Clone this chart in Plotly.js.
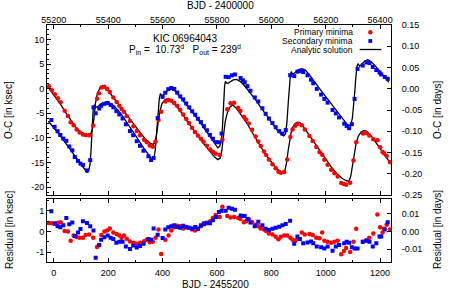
<!DOCTYPE html>
<html>
<head>
<meta charset="utf-8">
<script src="https://cdn.plot.ly/plotly-3.0.1.min.js"></script>
<style>
html,body{margin:0;padding:0;background:#fff;}
#chart{width:458px;height:291px;}
</style>
</head>
<body>
<div id="chart"></div>
<script>
// ---- Analytic solution (O-C in ksec) vs BJD - 2455200 ----
const primCurveT = [-26,-16,0,12,25,40,60,80,95,110,125,135,142,148,153,160,170,180,190,200,220,240,260,280,300,320,340,355,365,372,378,384,390,398,410,420,430,450,470,490,510,530,550,570,590,603,612,618,624,630,638,648,658,670,690,710,730,750,770,790,810,828,840,850,856,862,868,875,885,895,905,920,940,960,980,1000,1020,1040,1060,1075,1085,1092,1098,1105,1112,1120,1130,1140,1150,1170,1190,1210,1230,1240];
const primCurveOC = [0.7,-0.05,-1.2,-2.1,-3.2,-4.5,-6.2,-7.8,-8.6,-9.1,-9.35,-9.2,-8.3,-6.0,-3.0,-1.0,0.2,0.6,0.3,-0.4,-1.8,-3.2,-4.6,-6.1,-7.6,-9.1,-10.4,-11.1,-11.3,-11.0,-9.3,-6.8,-4.6,-3.0,-2.2,-2.0,-2.4,-3.5,-4.9,-6.6,-8.2,-9.6,-11.1,-12.5,-13.8,-14.4,-14.1,-12.5,-9.5,-6.8,-4.9,-3.7,-3.3,-3.9,-5.4,-7.0,-8.9,-10.8,-12.6,-14.2,-15.6,-16.6,-17.0,-16.6,-15.0,-12.5,-10.0,-8.2,-7.2,-6.8,-6.9,-7.9,-9.5,-11.1,-12.8,-14.4,-15.9,-17.2,-18.2,-18.7,-18.8,-17.8,-15.5,-13.0,-11.0,-9.6,-8.8,-8.5,-8.6,-9.8,-11.3,-12.9,-14.5,-15.3];

const secCurveT = [-20,0,20,40,60,80,100,115,122,128,133,137,141,145,149,155,162,175,190,200,215,230,250,270,290,310,330,350,362,368,373,378,383,388,392,397,405,420,432,445,460,480,500,520,540,560,580,595,603,610,616,620,624,628,631,635,640,648,660,672,685,700,720,740,760,780,800,820,835,845,852,857,862,866,870,873,878,885,900,912,925,940,960,980,1000,1020,1040,1060,1075,1085,1092,1098,1103,1107,1111,1115,1119,1124,1130,1145,1155,1165,1180,1200,1220,1232];
const secCurveOC = [-6.6,-7.9,-9.3,-10.8,-12.3,-13.9,-15.5,-16.6,-17.0,-16.8,-15.5,-12.5,-8.0,-4.0,-3.3,-3.8,-3.6,-3.0,-2.7,-2.7,-3.2,-4.0,-5.3,-6.9,-8.6,-10.3,-12.0,-13.5,-14.4,-14.2,-12.5,-9.0,-5.0,-2.0,-1.0,-1.4,-1.2,-0.3,-0.1,-0.4,-1.4,-2.7,-4.1,-5.5,-7.0,-8.6,-10.3,-11.5,-12.0,-11.7,-10.8,-8.0,-3.0,0.5,1.5,1.2,1.1,1.4,1.8,1.9,1.5,0.7,-0.6,-2.1,-3.7,-5.3,-6.8,-8.3,-9.2,-9.6,-9.2,-7.0,-3.0,0.5,2.8,3.5,3.0,3.2,3.9,4.1,3.8,2.8,1.2,-0.2,-1.6,-3.0,-4.5,-6.0,-7.0,-7.5,-7.3,-6.0,-3.5,-0.5,2.5,4.6,5.1,4.6,4.9,5.7,5.9,5.6,4.8,3.4,2.1,1.3];

// ---- Primary minima ----
const primT = [-18,-7,4,15,25,40,52,62,73,84,95,107,117,130,145,159,166,175,186,196,206,219,231,241,249,258,268,280,293,305,317,332,342,353,364,374,385,395,410,422,432,443,454,465,476,487,497,508,519,530,541,551,563,575,585,595,610,620,638,650,663,678,686,699,707,717,729,742,752,761,773,781,791,804,816,826,835,847,858,870,878,888,896,912,923,940,952,965,977,987,995,1007,1020,1032,1044,1057,1067,1075,1090,1102,1112,1137,1149,1160,1175,1190,1200,1209,1214,1224,1236];
const primOC = [0.51,-0.30,-1.10,-1.93,-2.75,-4.48,-5.52,-6.81,-7.44,-8.28,-8.90,-9.30,-9.40,-9.43,-7.45,-2.04,-0.93,0.23,0.42,-0.07,-0.67,-1.78,-2.69,-3.47,-4.13,-4.66,-5.55,-6.58,-7.63,-8.58,-9.43,-10.35,-10.89,-11.53,-11.78,-10.73,-6.33,-4.69,-2.60,-2.28,-2.46,-2.92,-3.50,-4.30,-5.26,-6.15,-6.98,-7.94,-8.78,-9.48,-10.18,-10.77,-11.61,-12.33,-12.83,-13.23,-13.47,-10.30,-4.15,-2.94,-2.85,-3.85,-4.50,-5.67,-6.26,-7.07,-8.36,-9.71,-10.73,-11.64,-12.74,-13.46,-14.37,-15.33,-16.18,-16.87,-17.08,-16.92,-14.37,-9.79,-8.30,-7.53,-7.18,-7.42,-8.29,-9.62,-10.63,-11.83,-12.88,-13.41,-14.45,-15.43,-16.45,-17.18,-17.85,-19.15,-19.38,-19.50,-19.09,-14.57,-10.87,-9.09,-9.01,-9.50,-10.28,-10.48,-11.90,-12.87,-13.09,-13.69,-14.88];
const primRes = [0.41,0.40,0.40,0.42,0.45,0.02,0.00,-0.45,-0.20,-0.27,-0.30,-0.30,-0.17,-0.15,-0.30,-0.75,-0.65,-0.17,0.00,0.05,0.15,-0.05,-0.12,-0.20,-0.30,-0.20,-0.35,-0.48,-0.55,-0.60,-0.55,-0.47,-0.40,-0.52,-0.50,-0.30,0.10,-1.09,-0.40,-0.20,0.05,0.20,0.28,0.25,0.15,0.20,0.18,0.10,0.05,0.12,0.25,0.40,0.40,0.50,0.65,0.80,0.70,1.20,0.75,0.68,0.70,0.65,0.60,0.45,0.50,0.60,0.45,0.33,0.25,0.15,0.10,0.02,-0.10,-0.15,-0.25,-0.38,-0.25,-0.20,-0.20,-0.30,-0.40,-0.45,-0.37,-0.05,-0.15,-0.12,-0.17,-0.30,-0.33,-0.05,-0.45,-0.50,-0.55,-0.50,-0.45,-1.10,-0.95,-0.80,-1.00,-0.50,0.13,-0.50,-0.42,-0.30,-0.10,0.82,0.20,-0.05,0.13,0.33,0.10];

// ---- Secondary minima ----
const secT = [-9,3,14,24,35,46,57,68,77,89,98,107,122,134,146,154,167,174,186,198,209,219,230,241,253,265,280,292,305,317,330,348,358,367,382,400,410,421,432,443,454,465,476,487,498,509,520,530,541,552,563,574,585,596,607,617,632,643,655,666,687,695,702,712,723,739,752,767,779,791,804,816,829,841,853,869,884,896,905,917,933,946,954,967,983,995,1007,1025,1037,1049,1068,1077,1086,1096,1106,1117,1136,1150,1161,1173,1186,1198,1204,1217,1228];
const secOC = [-6.34,-7.73,-8.63,-9.40,-10.13,-10.60,-11.73,-12.51,-13.88,-14.67,-15.22,-15.51,-16.59,-14.50,-3.78,-4.99,-4.02,-3.45,-3.06,-2.90,-3.30,-3.78,-4.55,-5.22,-6.04,-7.23,-8.60,-9.45,-10.66,-11.60,-12.60,-13.72,-14.50,-14.08,-5.96,-1.65,-0.80,-0.08,0.15,-0.05,-0.78,-1.55,-2.16,-2.99,-3.78,-4.58,-5.28,-6.10,-6.78,-7.61,-8.44,-9.39,-10.15,-10.86,-10.88,-9.10,2.43,2.36,2.73,2.90,2.17,1.72,1.32,0.52,-0.40,-1.77,-2.59,-3.96,-5.09,-6.06,-6.97,-7.82,-8.61,-9.14,-8.40,2.75,2.57,3.47,3.61,3.41,2.73,1.83,1.11,-0.02,-1.18,-2.07,-2.82,-4.31,-5.01,-5.83,-7.10,-7.60,-8.02,-7.20,-2.07,4.03,4.72,5.35,5.22,4.44,3.81,3.30,2.90,2.40,2.02];
const secRes = [0.98,0.38,0.25,0.20,0.30,0.65,0.35,0.43,-0.22,-0.05,0.12,0.50,0.41,0.25,0.05,-1.27,-0.65,-0.40,-0.28,-0.20,-0.30,-0.37,-0.55,-0.50,-0.50,-0.73,-0.85,-0.68,-0.78,-0.70,-0.60,-0.37,-0.40,0.15,-0.16,-0.32,0.10,0.20,0.25,0.30,0.22,0.18,0.28,0.20,0.18,0.15,0.22,0.15,0.30,0.35,0.42,0.40,0.55,0.70,0.95,1.00,1.00,1.15,1.10,1.05,0.78,0.75,0.75,0.60,0.43,0.26,0.47,0.30,0.13,0.07,0.13,0.18,0.23,0.30,0.36,0.52,-0.60,-0.24,-0.37,-0.57,-0.54,-0.49,-0.57,-0.73,-0.77,-0.82,-0.73,-0.93,-0.73,-0.65,-0.57,-0.50,-0.55,-0.77,-0.82,-0.82,-0.50,-0.45,-0.50,-0.73,-0.57,-0.24,-0.24,0.10,0.45];

// ---- Tick values and labels ----
const xBottomTicks = [0, 200, 400, 600, 800, 1000, 1200];
const xBottomTickText = ['0', '200', '400', '600', '800', '1000', '1200'];
const xTopTicks = [55200, 55400, 55600, 55800, 56000, 56200, 56400];
const xTopTickText = ['55200', '55400', '55600', '55800', '56000', '56200', '56400'];
const yTopTicks = [-20, -15, -10, -5, 0, 5, 10];
const yTopTickText = ['-20', '-15', '-10', '-5', '0', '5', '10'];
const yTopDaysTicks = [-0.25, -0.20, -0.15, -0.10, -0.05, 0.00, 0.05, 0.10, 0.15];
const yTopDaysTickText = ['-0.25', '-0.20', '-0.15', '-0.10', '-0.05', '0.00', '0.05', '0.10', '0.15'];
const yBotTicks = [-1, 0, 1];
const yBotTickText = ['-1', '0', '1'];
const yBotDaysTicks = [-0.01, 0.00, 0.01];
const yBotDaysTickText = ['-0.01', '0.00', '0.01'];

// ---- Labels ----
const seriesNames = ['Primary minima', 'Secondary minima', 'Analytic solution'];
const starName = 'KIC 06964043';
const periodText = 'P<sub>in</sub> =\u00a0\u00a010.73<sup>d</sup>\u00a0\u00a0\u00a0P<sub>out</sub> = 239<sup>d</sup>';
const xTopTitle = 'BJD - 2400000';
const xBottomTitle = 'BJD - 2455200';
const yTopLeftTitle = 'O-C [in ksec]';
const yTopRightTitle = 'O-C [in days]';
const yBotLeftTitle = 'Residual [in ksec]';
const yBotRightTitle = 'Residual [in days]';

const KSEC_PER_DAY = 86.4;
const xRange = [-25, 1240];
const yTopRange = [-21.6, 12.96];
const yBotRange = [-1.48, 1.6];

const FONT = 'Liberation Sans, Arial, Helvetica, sans-serif';
const RED = '#ff0000', BLUE = '#0000ff';

const traces = [
  {x: primCurveT, y: primCurveOC, xaxis:'x', yaxis:'y', mode:'lines', name: seriesNames[2],
   line:{color:'#000', width:1.3}, showlegend:false, hoverinfo:'skip'},
  {x: secCurveT, y: secCurveOC, xaxis:'x', yaxis:'y', mode:'lines', name: seriesNames[2],
   line:{color:'#000', width:1.3}, showlegend:false, hoverinfo:'skip'},
  {x: primT, y: primOC, xaxis:'x', yaxis:'y', mode:'markers', name: seriesNames[0],
   marker:{color:RED, size:4.5, symbol:'circle'}, showlegend:false},
  {x: secT, y: secOC, xaxis:'x', yaxis:'y', mode:'markers', name: seriesNames[1],
   marker:{color:BLUE, size:4, symbol:'square'}, showlegend:false},
  {x: primT, y: primRes, xaxis:'x2', yaxis:'y2', mode:'markers', name: seriesNames[0],
   marker:{color:RED, size:4.5, symbol:'circle'}, showlegend:false},
  {x: secT, y: secRes, xaxis:'x2', yaxis:'y2', mode:'markers', name: seriesNames[1],
   marker:{color:BLUE, size:4, symbol:'square'}, showlegend:false},
  // carriers for the secondary (top / right) axes; they hold no marks
  {x: [], y: [], xaxis:'x3', yaxis:'y3', mode:'markers', showlegend:false, hoverinfo:'skip'},
  {x: [], y: [], xaxis:'x2', yaxis:'y4', mode:'markers', showlegend:false, hoverinfo:'skip'}
];

const axBase = {
  showgrid:false, zeroline:false, showline:true, linecolor:'#000', linewidth:1,
  ticks:'inside', ticklen:4, tickwidth:1, tickcolor:'#000',
  tickfont:{family:FONT, size:9, color:'#000'}
};
const minorX = {tick0:0, dtick:100, ticks:'inside', ticklen:2, tickcolor:'#000'};

const L = 47, R = 67, T = 25, B = 29;
const W = 458, H = 291;
const pw = W - L - R, ph = H - T - B;
const px2x = p => (p - L) / pw;
const py2y = p => (H - B - p) / ph;

const layout = {
  width: W, height: H,
  margin:{l:L, r:R, t:T, b:B, pad:0},
  paper_bgcolor:'#fff', plot_bgcolor:'#fff',
  font:{family:FONT, size:10, color:'#000'},
  showlegend:false,
  xaxis: Object.assign({}, axBase, {domain:[0,1], anchor:'y', range:xRange,
    tickmode:'array', tickvals:xBottomTicks, ticktext:xBottomTickText,
    showticklabels:false, minor:minorX}),
  xaxis3: Object.assign({}, axBase, {overlaying:'x', side:'top', anchor:'y',
    range:[xRange[0]+55200, xRange[1]+55200],
    tickmode:'array', tickvals:xTopTicks, ticktext:xTopTickText, ticklabelstandoff:-3,
    minor:{tick0:55200, dtick:100, ticks:'inside', ticklen:2, tickcolor:'#000'}}),
  yaxis: Object.assign({}, axBase, {domain:[py2y(195),1], anchor:'x', range:yTopRange,
    tickmode:'array', tickvals:yTopTicks, ticktext:yTopTickText,
    minor:{tick0:0, dtick:1, ticks:'inside', ticklen:2, tickcolor:'#000'}}),
  yaxis3: Object.assign({}, axBase, {overlaying:'y', side:'right', anchor:'x3',
    range:[yTopRange[0]/KSEC_PER_DAY, yTopRange[1]/KSEC_PER_DAY],
    tickmode:'array', tickvals:yTopDaysTicks, ticktext:yTopDaysTickText, ticklabelstandoff:8}),
  xaxis2: Object.assign({}, axBase, {domain:[0,1], anchor:'y2', range:xRange,
    tickmode:'array', tickvals:xBottomTicks, ticktext:xBottomTickText,
    mirror:'ticks', ticklabelstandoff:2, minor:minorX}),
  yaxis2: Object.assign({}, axBase, {domain:[0, py2y(198.5)], anchor:'x2', range:yBotRange,
    tickmode:'array', tickvals:yBotTicks, ticktext:yBotTickText,
    minor:{tick0:0, dtick:0.5, ticks:'inside', ticklen:2, tickcolor:'#000'}}),
  yaxis4: Object.assign({}, axBase, {overlaying:'y2', side:'right', anchor:'x2',
    range:[yBotRange[0]/KSEC_PER_DAY, yBotRange[1]/KSEC_PER_DAY],
    tickmode:'array', tickvals:yBotDaysTicks, ticktext:yBotDaysTickText, ticklabelstandoff:8}),
  annotations: [
    {text: starName, xref:'paper', yref:'paper', x:px2x(185), y:py2y(39), xanchor:'center', yanchor:'middle', showarrow:false, font:{size:10}},
    {text: periodText, xref:'paper', yref:'paper', x:px2x(185), y:py2y(49.5), xanchor:'center', yanchor:'middle', showarrow:false, font:{size:10}},
    {text: seriesNames[0], xref:'paper', yref:'paper', x:px2x(354), y:py2y(32), xanchor:'right', yanchor:'middle', showarrow:false, borderpad:0, font:{size:8.5}},
    {text: seriesNames[1], xref:'paper', yref:'paper', x:px2x(354), y:py2y(41), xanchor:'right', yanchor:'middle', showarrow:false, borderpad:0, font:{size:8.5}},
    {text: seriesNames[2], xref:'paper', yref:'paper', x:px2x(354), y:py2y(50), xanchor:'right', yanchor:'middle', showarrow:false, borderpad:0, font:{size:8.5}},
    {text: xTopTitle, xref:'paper', yref:'paper', x:px2x(220), y:py2y(5.5), xanchor:'center', yanchor:'middle', showarrow:false, font:{size:10}},
    {text: xBottomTitle, xref:'paper', yref:'paper', x:px2x(215), y:py2y(284), xanchor:'center', yanchor:'middle', showarrow:false, font:{size:10}},
    {text: yTopLeftTitle, xref:'paper', yref:'paper', x:px2x(9), y:py2y(110), xanchor:'center', yanchor:'middle', textangle:-90, showarrow:false, font:{size:10}},
    {text: yBotLeftTitle, xref:'paper', yref:'paper', x:px2x(9), y:py2y(230), xanchor:'center', yanchor:'middle', textangle:-90, showarrow:false, font:{size:10}},
    {text: yTopRightTitle, xref:'paper', yref:'paper', x:px2x(438), y:py2y(110), xanchor:'center', yanchor:'middle', textangle:-90, showarrow:false, font:{size:10}},
    {text: yBotRightTitle, xref:'paper', yref:'paper', x:px2x(437), y:py2y(230), xanchor:'center', yanchor:'middle', textangle:-90, showarrow:false, font:{size:10}}
  ],
  shapes: [
    {type:'circle', xref:'paper', yref:'paper', xsizemode:'pixel', ysizemode:'pixel',
     xanchor:px2x(370.3), yanchor:py2y(32.3), x0:-2.2, x1:2.2, y0:-2.2, y1:2.2, fillcolor:RED, line:{width:0}},
    {type:'rect', xref:'paper', yref:'paper', xsizemode:'pixel', ysizemode:'pixel',
     xanchor:px2x(370.3), yanchor:py2y(41), x0:-1.9, x1:1.9, y0:-1.9, y1:1.9, fillcolor:BLUE, line:{width:0}},
    {type:'line', xref:'paper', yref:'paper', x0:px2x(359.7), x1:px2x(381.3), y0:py2y(49.5), y1:py2y(49.5),
     line:{color:'#000', width:1.3}}
  ]
};

Plotly.newPlot('chart', traces, layout, {displayModeBar:false, staticPlot:true});
</script>
</body>
</html>
